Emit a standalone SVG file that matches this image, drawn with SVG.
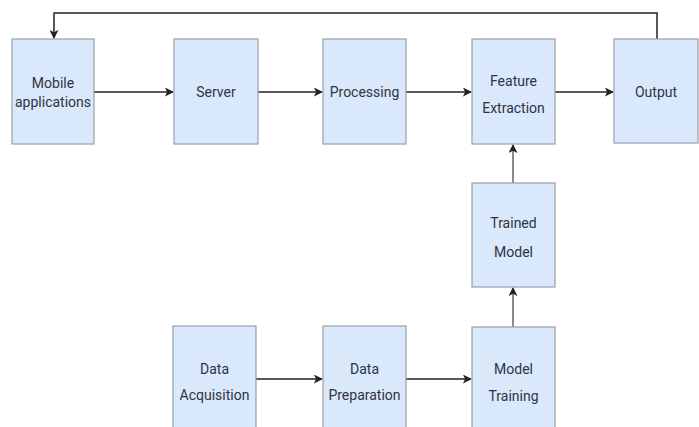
<svg xmlns="http://www.w3.org/2000/svg" width="699" height="427" viewBox="0 0 699 427">
<style>
.box{fill:#dae8fc;stroke:#9a9fa8;stroke-width:1.2}
.lbl{font-family:Roboto,"Liberation Sans",sans-serif;font-size:14px;fill:#2e3440;text-anchor:middle}
.ed{fill:none;stroke:#222;stroke-width:1.5}
.edg{fill:none;stroke:#8a8a8a;stroke-width:2}
</style>
<defs>
<marker id="ah" viewBox="0 0 10 10" refX="9" refY="5" markerWidth="9" markerHeight="9" markerUnits="userSpaceOnUse" orient="auto"><path d="M0,0 L10,5 L0,10 L2.5,5 Z" fill="#222"/></marker>
</defs>
<rect width="699" height="427" fill="#fff"/>
<g id="connectors">
<path class="ed" d="M657,39 V13 H54 V38" marker-end="url(#ah)"/>
<path class="ed" d="M94,92 H173" marker-end="url(#ah)"/>
<path class="ed" d="M258,92 H322" marker-end="url(#ah)"/>
<path class="ed" d="M406,92 H471" marker-end="url(#ah)"/>
<path class="ed" d="M555,92 H613" marker-end="url(#ah)"/>
<path class="ed" d="M256,379 H322" marker-end="url(#ah)"/>
<path class="ed" d="M406,379 H471" marker-end="url(#ah)"/>
<path class="edg" d="M513,183 V145" marker-end="url(#ah)"/>
<path class="edg" d="M513,327 V288" marker-end="url(#ah)"/>
</g>
<g id="mobile"><rect class="box" x="12" y="39" width="82" height="105"/><text class="lbl" x="53" y="88">Mobile</text><text class="lbl" x="53" y="107">applications</text></g>
<g id="server"><rect class="box" x="174" y="39" width="84" height="105"/><text class="lbl" x="216" y="97">Server</text></g>
<g id="processing"><rect class="box" x="323" y="39" width="83" height="105"/><text class="lbl" x="364.5" y="97">Processing</text></g>
<g id="feature"><rect class="box" x="472" y="39" width="83" height="105"/><text class="lbl" x="513.5" y="86">Feature</text><text class="lbl" x="513.5" y="113">Extraction</text></g>
<g id="output"><rect class="box" x="614" y="39" width="84" height="104"/><text class="lbl" x="656" y="97">Output</text></g>
<g id="trained"><rect class="box" x="472" y="183" width="83" height="104"/><text class="lbl" x="513.5" y="228">Trained</text><text class="lbl" x="513.5" y="257">Model</text></g>
<g id="acquisition"><rect class="box" x="173" y="326" width="83" height="105"/><text class="lbl" x="214.5" y="374">Data</text><text class="lbl" x="214.5" y="400">Acquisition</text></g>
<g id="preparation"><rect class="box" x="323" y="326" width="83" height="105"/><text class="lbl" x="364.5" y="374">Data</text><text class="lbl" x="364.5" y="400">Preparation</text></g>
<g id="training"><rect class="box" x="472" y="327" width="83" height="104"/><text class="lbl" x="513.5" y="374">Model</text><text class="lbl" x="513.5" y="401">Training</text></g>
</svg>
